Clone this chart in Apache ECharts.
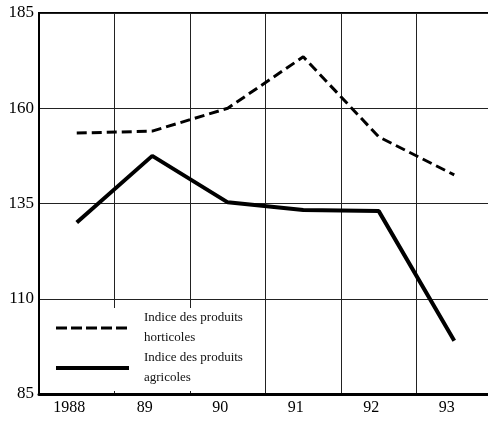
<!DOCTYPE html>
<html>
<head>
<meta charset="utf-8">
<script src="https://cdn.jsdelivr.net/npm/echarts@6.0.0/dist/echarts.min.js"></script>
<style>
  html, body { margin: 0; padding: 0; background: #fff; }
  #chart { width: 488px; height: 426px; }
</style>
</head>
<body>
<div id="chart"></div>
<script>
// annees (axe X)
var years = ['1988', '89', '90', '91', '92', '93'];
// indice des produits horticoles (tirets)
var horticoles = [153.5, 154, 160, 173.5, 152.5, 142.5];
// indice des produits agricoles (trait plein)
var agricoles = [130, 147.5, 135.3, 133.3, 133, 99];
// graduations Y
var yMin = 85, yMax = 185, yStep = 25;

var nomHort = 'Indice des produits\nhorticoles';
var nomAgri = 'Indice des produits\nagricoles';
var serif = 'Liberation Serif, Times New Roman, serif';

var myChart = echarts.init(document.getElementById('chart'));
var option = {
  animation: false,
  backgroundColor: '#fff',
  grid: {
    left: 39, top: 13, width: 453, height: 381,
    outerBoundsMode: 'none',
    show: true, borderColor: '#000', borderWidth: 2
  },
  legend: {
    orient: 'vertical',
    left: 40, top: 308,
    padding: [0, 14, 3, 14],
    backgroundColor: '#fff',
    itemWidth: 73, itemHeight: 14, itemGap: 0,
    itemStyle: { opacity: 0 },
    data: [
      { name: nomHort, lineStyle: { width: 3, type: [11, 4] } },
      { name: nomAgri, lineStyle: { width: 4 } }
    ],
    textStyle: {
      fontFamily: serif, fontSize: 13, color: '#111',
      lineHeight: 20, padding: [0, 0, 0, 10]
    }
  },
  xAxis: {
    type: 'category',
    data: years,
    boundaryGap: true,
    axisLine: { lineStyle: { color: '#000', width: 3 } },
    axisTick: { show: false },
    splitLine: { show: true, interval: 0, lineStyle: { color: '#222', width: 1 } },
    axisLabel: {
      interval: 0, margin: 6,
      fontFamily: serif, fontSize: 16, color: '#000',
      padding: [0, 15, 0, 0]
    }
  },
  yAxis: {
    type: 'value',
    min: yMin, max: yMax, interval: yStep,
    axisLine: { show: true, lineStyle: { color: '#000', width: 2 } },
    axisTick: { show: false },
    splitLine: { show: true, lineStyle: { color: '#222', width: 1 } },
    axisLabel: { margin: 5, fontFamily: serif, fontSize: 17, color: '#000' }
  },
  series: [
    {
      name: nomHort,
      type: 'line',
      data: horticoles,
      symbol: 'none',
      lineStyle: { color: '#000', width: 3, type: [10, 5] },
      itemStyle: { color: '#000' }
    },
    {
      name: nomAgri,
      type: 'line',
      data: agricoles,
      symbol: 'none',
      lineStyle: { color: '#000', width: 4 },
      itemStyle: { color: '#000' }
    }
  ]
};
myChart.setOption(option);
</script>
</body>
</html>
